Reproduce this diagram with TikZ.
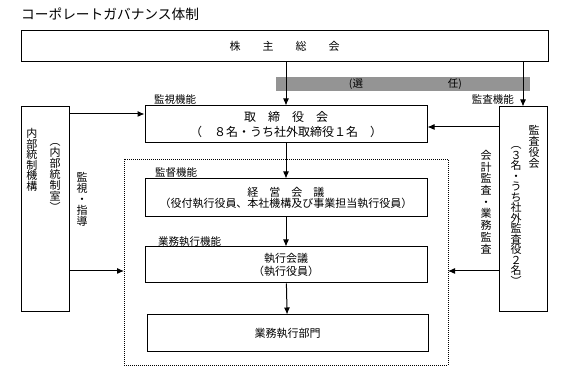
\documentclass[tikz,border=0pt]{standalone}
\usepackage{fontspec}
\setmainfont{Noto Sans CJK JP}
\usetikzlibrary{arrows.meta}
\begin{document}
\begin{tikzpicture}[x=1pt,y=-1pt,
  box/.style={draw,line width=1pt,inner sep=0pt,align=center,font=\fontsize{11}{12}\selectfont},
  vtext/.style={inner sep=0pt,align=center,font=\fontsize{11}{11}\selectfont},
  lbl/.style={inner sep=0pt,font=\fontsize{10.5}{12}\selectfont},
  arr/.style={line width=1pt,-{Latex[length=7pt,width=6pt]}}]
\useasboundingbox (0,0) rectangle (566,371);
% title
\node[anchor=west,inner sep=0pt,font=\fontsize{13.7}{15}\selectfont] (title) at (21,14) {コーポレートガバナンス体制};
% gray band
\fill[black!42] (276,77) rectangle (530,91);
\node[inner sep=0pt,font=\fontsize{10.5}{12}\selectfont] (sen) at (356,84) {(選};
\node[inner sep=0pt,font=\fontsize{10.5}{12}\selectfont] (nin) at (455,84) {任)};
% boxes
\node[box,minimum width=527pt,minimum height=31pt] (sh) at (284.5,46.5) {株　　主　　総　　会};
\node[box,minimum width=282pt,minimum height=37pt,font=\fontsize{12}{15}\selectfont] (board) at (286,124.5) {取　締　役　会\\（　８名・うち社外取締役１名　）};
\draw[line width=0.8pt,dash pattern=on 1pt off 1pt] (124,159) rectangle (448,365);
\node[box,minimum width=282pt,minimum height=38pt,font=\fontsize{11}{11.5}\selectfont] (mgmt) at (286,198) {経　営　会　議\\（役付執行役員、本社機構及び事業担当執行役員）};
\coordinate (dotl) at (124,271);
\coordinate (dotr) at (448,271);
\node[box,minimum width=282pt,minimum height=36pt,font=\fontsize{11}{12.5}\selectfont] (exec) at (286,265) {執行会議\\（執行役員）};
\node[box,minimum width=281pt,minimum height=37pt] (dept) at (287.5,333.5) {業務執行部門};
\node[box,minimum width=48pt,minimum height=205pt] (left) at (45,209.5) {};
\node[box,minimum width=48pt,minimum height=205pt] (audit) at (523,209.5) {};
% labels
\node[lbl,anchor=west] (l1) at (154,100) {監視機能};
\node[lbl,anchor=east] (l2) at (514,100) {監査機能};
\node[lbl,anchor=west] (l3) at (155,173) {監督機能};
\node[lbl,anchor=west] (l4) at (158,242) {業務執行機能};
% vertical texts
\node[vtext,font=\fontsize{11}{10.5}\selectfont] (v1) at (32,160) {内\\部\\統\\制\\機\\構};
\node[vtext] (v2) at (55,177) {︵\\内\\部\\統\\制\\室\\︶};
\node[vtext] (v3) at (82,199) {監\\視\\・\\指\\導};
\node[vtext] (v4) at (534,147) {監\\査\\役\\会};
\node[vtext,font=\fontsize{11}{10.5}\selectfont] (v5) at (516,216) {︵\\３\\名\\・\\う\\ち\\社\\外\\監\\査\\役\\２\\名\\︶};
\node[vtext,font=\fontsize{11}{11.7}\selectfont] (v6) at (486,202) {会\\計\\監\\査\\・\\業\\務\\監\\査};
% arrows
\draw[arr] (board.north |- sh.south) -- (board.north);
\draw[arr] (audit.north |- sh.south) -- (audit.north);
\draw[arr] (board) -- (mgmt);
\draw[arr] (mgmt) -- (exec);
\draw[arr] (exec) -- (dept);
\coordinate (ly) at (0,114);
\draw[arr] (left.east |- ly) -- (board.west |- ly);
\draw[arr] (left.east |- dotl) -- (dotl);
\coordinate (ry) at (0,127);
\draw[arr] (audit.west |- ry) -- (board.east |- ry);
\draw[arr] (audit.west |- dotr) -- (dotr);
\end{tikzpicture}
\end{document}
